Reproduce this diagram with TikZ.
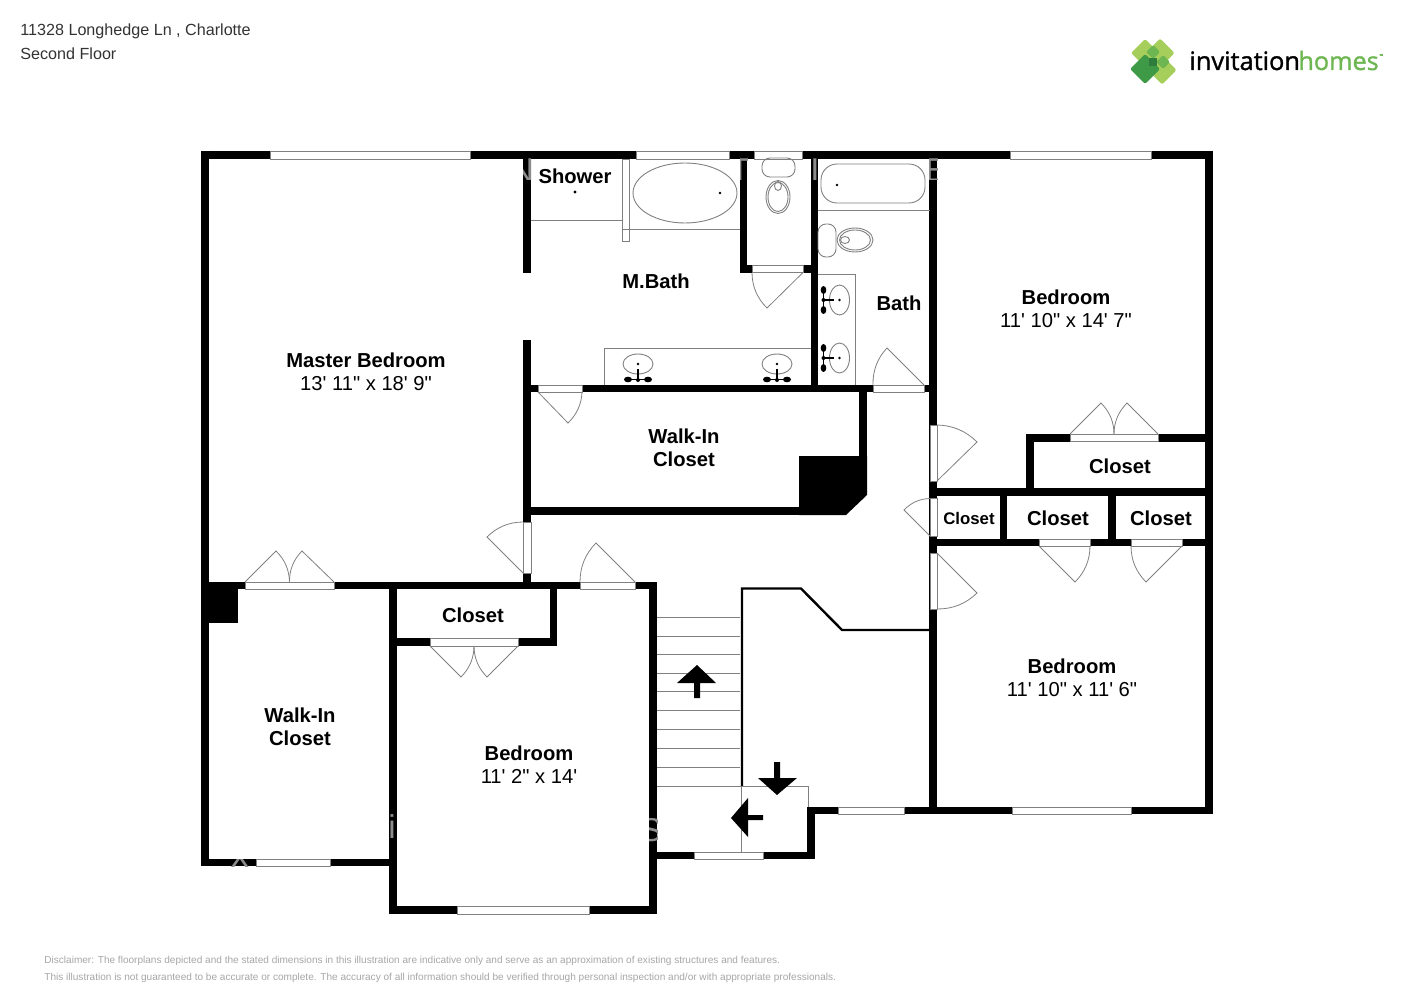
\documentclass[tikz,border=0pt]{standalone}
\usepackage{fontspec}
\newfontfamily\planfont{Liberation Sans}
\newfontfamily\logofont[FakeBold=1.2]{Open Sans}
\usetikzlibrary{calc}
\definecolor{leafgreen}{HTML}{A6CE5B}
\definecolor{midgreen}{HTML}{6DB651}
\definecolor{darkgreen}{HTML}{3F9A47}
\definecolor{deepgreen}{HTML}{2E7D3C}
\definecolor{linegray}{HTML}{808080}
\definecolor{notegray}{HTML}{A6A6A6}
% door leaf and its swing: hinge, tip of the leaf, other jamb
\newcommand{\doorleaf}[3]{\coordinate (bow) at ($(#1)!1.17!($(#2)!.5!(#3)$)$);
  \draw[doorline] (#1) -- (#2)
  .. controls ($(#2)!.667!(bow)$) and ($(#3)!.667!(bow)$) .. (#3);}
\newcommand{\logoleaf}[4]{\fill[#4,rounded corners=1pt] (#1-#3,#2) -- (#1,#2-#3)
  -- (#1+#3,#2) -- (#1,#2+#3) -- cycle;}
% a letter of the watermark, seen only where it crosses a wall
\newcommand{\ghostletter}[6]{\begin{scope}
  \clip (#1,#2) rectangle (#3,#4);
  \node[ghost] at (#5) {#6};
  \end{scope}}
\begin{document}
\begin{tikzpicture}[x=0.5pt,y=-0.5pt,
  wall/.style={line width=3.8pt,line cap=butt},
  thinwall/.style={line width=1.2pt,line join=miter},
  opening/.style={fill=white,draw=linegray,line width=.4pt},
  doorline/.style={draw=linegray,line width=.4pt},
  fixture/.style={draw=linegray,line width=.45pt},
  faucet/.style={line width=.7pt},
  roomname/.style={font=\planfont\fontsize{10.1}{11.4}\selectfont,align=center,inner sep=0pt},
  smallname/.style={font=\planfont\bfseries\fontsize{8.4}{10}\selectfont,inner sep=0pt},
  header/.style={font=\planfont\fontsize{8.07}{9.6}\selectfont,color=black!80,anchor=base west,inner sep=0pt},
  note/.style={font=\planfont\fontsize{5.03}{6}\selectfont,color=notegray,anchor=base west,inner sep=0pt},
  ghost/.style={font=\planfont\fontsize{16.5}{16.5}\selectfont,color=black!45,inner sep=0pt}]
\useasboundingbox (0,0) rectangle (1414,1000);

% outer and inner walls
\draw[wall] (201,155) -- (1213,155);
\draw[wall] (205,151) -- (205,866) (201,862.5) -- (393,862.5);
\draw[wall] (1209,151) -- (1209,814) (933,810.5) -- (1213,810.5);
\draw[wall] (527,155) -- (527,273) (527,340) -- (527,589);
\draw[wall] (523,388.5) -- (937,388.5);
\draw[wall] (743.5,155) -- (743.5,273) (740,269) -- (818,269);
\draw[wall] (814.5,155) -- (814.5,392);
\draw[wall] (933,155) -- (933,814);
\draw[wall] (863,388) -- (863,490) (527,511) -- (810,511);
\draw[wall] (1030,434) -- (1030,492) (1026,438) -- (1213,438);
\draw[wall] (933,492) -- (1213,492) (933,542.5) -- (1213,542.5);
\draw[wall] (1003.5,492) -- (1003.5,542) (1112,492) -- (1112,542);
\draw[wall] (201,585.5) -- (657,585.5);
\draw[wall] (393,585) -- (393,914) (553.5,585) -- (553.5,646) (393,642) -- (557,642);
\draw[wall] (653,582) -- (653,914) (389,910) -- (657,910);
\draw[wall] (653,855.5) -- (815,855.5) (811,807) -- (811,859) (807,810.5) -- (937,810.5);
\fill (799,456) -- (867,456) -- (867,495) -- (846,515) -- (799,515) -- cycle;
\fill (201,582) rectangle (238,623);
\draw[thinwall] (742,786) -- (742,588.5) -- (801,588.5) -- (842,630) -- (931,630);

% watermark on the walls
\ghostletter{523}{159}{531}{180}{522,170}{N}
\ghostletter{740}{159}{747}{180}{740,170}{T}
\ghostletter{811}{159}{818}{180}{815,170}{I}
\ghostletter{929}{159}{937}{180}{936,170}{E}
\ghostletter{649}{815}{657}{852}{651,830}{S}
\ghostletter{389}{805}{397}{850}{392,827}{i}
\ghostletter{201}{859}{256}{866}{240,858}{X}

% stairs
\foreach \y in {617,636,654,673,691,710,729,748,767}
  \draw[fixture] (657,\y) -- (740,\y);
\draw[fixture] (657,786) -- (808.5,786) -- (808.5,807);
\draw[fixture] (741.5,786) -- (741.5,852);
\fill (697,665) -- (716,683) -- (700,683) -- (700,698) -- (694,698) -- (694,683) -- (677,683) -- cycle;
\fill (777,795) -- (797,778) -- (780,778) -- (780,762) -- (774,762) -- (774,778) -- (758,778) -- cycle;
\fill (731,818) -- (748,798) -- (748,815) -- (763,815) -- (763,820) -- (748,820) -- (748,837) -- cycle;

% windows and door openings
\foreach \a/\b/\c/\d in {270/151/470/159,636/151/729/159,754/151/802/159,1010/151/1151/159,
    1012/807/1131/814,838/807/904/814,694/852/763/859,457/906/589/914,256/859/330/866,
    752/265/803/272.5,538/385/582/392,873/385/924/392,1070/434/1158/441.5,
    1039/539/1090/546,1131/539/1182/546,245/582/334/589,580/582/635/589,430/638.5/518/646,
    930/425/937/481,930/498.5/937/536,930/553/937/609,523/522/531/573}
  \draw[opening] (\a,\b) rectangle (\c,\d);

% door leaves
\doorleaf{803,272.5}{767,308}{752,272.5}
\doorleaf{538,392}{568,423}{582,392}
\doorleaf{924,385}{887,348}{873,385}
\doorleaf{937,481}{977,442}{937,425}
\doorleaf{930,536}{904,510}{930,498.5}
\doorleaf{937,553}{977,593}{937,609}
\doorleaf{1039,546}{1075,582}{1090,546}
\doorleaf{1182,546}{1146,582}{1131,546}
\doorleaf{1070,434}{1101,403}{1114,434}
\doorleaf{1158,434}{1127,403}{1114,434}
\doorleaf{245,582}{276,551}{289.5,582}
\doorleaf{334,582}{302,551}{289.5,582}
\doorleaf{430,646}{461,677}{474,646}
\doorleaf{518,646}{487,677}{474,646}
\doorleaf{523,573}{487,537}{523,522}
\doorleaf{635,582}{596,543}{580,582}

% master bath
\draw[fixture] (531,220) -- (622,220);
\draw[fixture] (622,159) rectangle (629,241);
\draw[fixture] (622,229) -- (740,229);
\draw[fixture] (685,193) ellipse (52 and 30);
\fill (575,192) circle (1.7) (720,193) circle (1.4);
\draw[fixture] (604,385) -- (604,348) -- (811,348);
\foreach \x in {638,777} {
  \draw[fixture] (\x,364) ellipse (15 and 10);
  \fill (\x,364) circle (1.4);
  \draw[faucet] (\x,369) -- (\x,380) (\x-10,379.5) -- (\x+10,379.5);
  \fill (\x-10,379.5) ellipse (4 and 2.8) (\x+10,379.5) ellipse (4 and 2.8) (\x,380) circle (2);
}
% toilet, master bath
\draw[fixture,rounded corners=4pt] (762,158) rectangle (795,177);
\draw[fixture] (778,197) ellipse (12 and 16.5) (778,197) ellipse (10 and 14.5);
\draw[fixture] (778,186) ellipse (3.5 and 4.5);

% hall bath
\draw[fixture,rounded corners=8pt] (821,164) rectangle (925,203);
\fill (837,185) circle (1.4);
\draw[fixture] (818,210) -- (930,210);
\draw[fixture,rounded corners=4pt] (818,224) rectangle (836,257);
\draw[fixture] (855,240) ellipse (18 and 12) (855,240) ellipse (15.5 and 10);
\draw[fixture] (845,240) ellipse (4.5 and 3.5);
\draw[fixture] (818,274) -- (855,274) -- (855,385);
\foreach \y in {300,358} {
  \draw[fixture] (839.5,\y) ellipse (10 and 15);
  \fill (839.5,\y) circle (1.4);
  \draw[faucet] (823.5,\y-10) -- (823.5,\y+10) (823.5,\y) -- (834,\y);
  \fill (823.5,\y-10) ellipse (2.8 and 4) (823.5,\y+10) ellipse (2.8 and 4) (823.5,\y) circle (2);
}

% room names
\node[roomname] (master) at (366,371.5) {\textbf{Master Bedroom}\\13' 11" x 18' 9"};
\node[roomname] (bed1) at (1066,308.5) {\textbf{Bedroom}\\11' 10" x 14' 7"};
\node[roomname] (bed2) at (1072,677.5) {\textbf{Bedroom}\\11' 10" x 11' 6"};
\node[roomname] (bed3) at (529,764.5) {\textbf{Bedroom}\\11' 2" x 14'};
\node[roomname] (walkin1) at (684,448) {\textbf{Walk-In}\\\textbf{Closet}};
\node[roomname] (walkin2) at (300,727) {\textbf{Walk-In}\\\textbf{Closet}};
\node[roomname] (shower) at (575,176) {\textbf{Shower}};
\node[roomname] (mbath) at (656,281) {\textbf{M.Bath}};
\node[roomname] (bath) at (899,303) {\textbf{Bath}};
\node[roomname] (closet1) at (1120,466) {\textbf{Closet}};
\node[smallname] (closet2) at (969,518) {Closet};
\node[roomname] (closet3) at (1058,518) {\textbf{Closet}};
\node[roomname] (closet4) at (1161,518) {\textbf{Closet}};
\node[roomname] (closet5) at (473,615) {\textbf{Closet}};

% heading and small print
\node[header] (address) at (20,36) {11328 Longhedge Ln , Charlotte};
\node[header] (floor) at (20,60) {Second Floor};
\node[note] (note1) at (44,963) {Disclaimer: The floorplans depicted and the stated dimensions in this illustration are indicative only and serve as an approximation of existing structures and features.};
\node[note] (note2) at (44,980) {This illustration is not guaranteed to be accurate or complete. The accuracy of all information should be verified through personal inspection and/or with appropriate professionals.};

% logo
\logoleaf{1145}{53}{14}{leafgreen}
\logoleaf{1160}{53}{14.5}{leafgreen}
\logoleaf{1162}{70}{14.5}{leafgreen}
\logoleaf{1145}{69}{15}{darkgreen}
\logoleaf{1153}{52}{7}{midgreen}
\logoleaf{1163}{62}{7}{midgreen}
\fill[deepgreen] (1149,58) rectangle (1157,66);
\node[font=\logofont\fontsize{12.7}{13}\selectfont,anchor=base west,inner sep=0pt] (logoa) at (1189,70) {invitation};
\node[font=\logofont\fontsize{12.6}{13}\selectfont,color=midgreen,anchor=base west,inner sep=0pt] (logob) at (1298,70) {homes};
\node[font=\logofont\fontsize{2.5}{3}\selectfont,color=midgreen,anchor=west,inner sep=0pt] (logotm) at (1379,56) {™};
\end{tikzpicture}
\end{document}
